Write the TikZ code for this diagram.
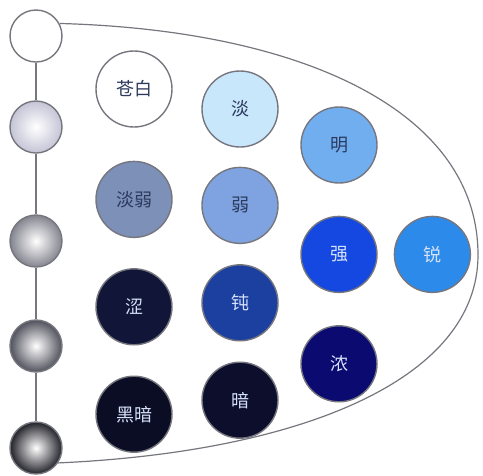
\documentclass[tikz,border=0pt]{standalone}
\usepackage{fontspec}
\newfontfamily\cjkfont{Noto Sans CJK SC}
\usetikzlibrary{positioning}
\definecolor{rimGray}{HTML}{76767E}
\definecolor{paleFill}{HTML}{FFFFFF}
\definecolor{lightFill}{HTML}{C9E7FB}
\definecolor{brightFill}{HTML}{70AEF0}
\definecolor{dullFill}{HTML}{7C90B8}
\definecolor{weakFill}{HTML}{7FA3E0}
\definecolor{strongFill}{HTML}{1448E0}
\definecolor{sharpFill}{HTML}{2C8AEA}
\definecolor{roughFill}{HTML}{111638}
\definecolor{bluntFill}{HTML}{1B40A0}
\definecolor{deepFill}{HTML}{0A0A70}
\definecolor{blackFill}{HTML}{0B0D24}
\definecolor{darkFill}{HTML}{0D0E2C}
\definecolor{darkInk}{HTML}{2B3A5E}
\definecolor{lightInk}{HTML}{D6E2FA}
\definecolor{knobA}{HTML}{C4C4D6}
\definecolor{knobB}{HTML}{84848F}
\definecolor{knobC}{HTML}{52525E}
\definecolor{knobD}{HTML}{22222A}

\begin{document}
\begin{tikzpicture}[x=1pt, y=-1pt, node distance=20pt and 16pt,
          tone/.style={circle, draw=rimGray, line width=1.4pt, minimum size=76pt, inner sep=0pt, fill=#1, font=\cjkfont\fontsize{18}{18}\selectfont},
          knob/.style={circle, draw=rimGray, line width=1.4pt, minimum size=52pt, inner sep=0pt, shading=radial, inner color=white, outer color=#1}]
        \useasboundingbox (0,0) rectangle (483,475);
        % lightness scale on the left
        \node[circle, draw=rimGray, line width=1.4pt, minimum size=52pt, fill=white] (k0) at (36,36) {};
        \node[knob=knobA] (k1) at (36,127) {};
        \node[knob=knobB] (k2) at (36,241) {};
        \node[knob=knobC] (k3) at (36,346) {};
        \node[knob=knobD] (k4) at (36,448) {};
        \draw[rimGray, line width=1.3pt] (k0) -- (k1);
        \draw[rimGray, line width=1.3pt] (k1) -- (k2);
        \draw[rimGray, line width=1.3pt] (k2) -- (k3);
        \draw[rimGray, line width=1.3pt] (k3) -- (k4);
        \draw[rimGray, line width=1.2pt] (k0.28) .. controls (300,30) and (478,110) .. (478,255)
          .. controls (478,380) and (300,452) .. (k4.-34);
        % tones
        \node[tone=paleFill, text=darkInk] (pale) at (134,89) {苍白};
        \node[tone=dullFill, text=darkInk, below=33pt of pale] (dull) {淡弱};
        \node[tone=roughFill, text=lightInk, below=30pt of dull] (rough) {涩};
        \node[tone=blackFill, text=lightInk, below=30pt of rough] (black) {黑暗};
        \node[tone=lightFill, text=darkInk] (light) at (240,109) {淡};
        \node[tone=weakFill, text=darkInk, below=19pt of light] (weak) {弱};
        \node[tone=bluntFill, text=lightInk, below=of weak] (blunt) {钝};
        \node[tone=darkFill, text=lightInk, below=of blunt] (dark) {暗};
        \node[tone=brightFill, text=darkInk] (bright) at (339,145) {明};
        \node[tone=strongFill, text=lightInk, below=32pt of bright] (strong) {强};
        \node[tone=deepFill, text=lightInk, below=32pt of strong] (deep) {浓};
        \node[tone=sharpFill, text=lightInk, right=of strong] (sharp) {锐};
      \end{tikzpicture}
\end{document}
